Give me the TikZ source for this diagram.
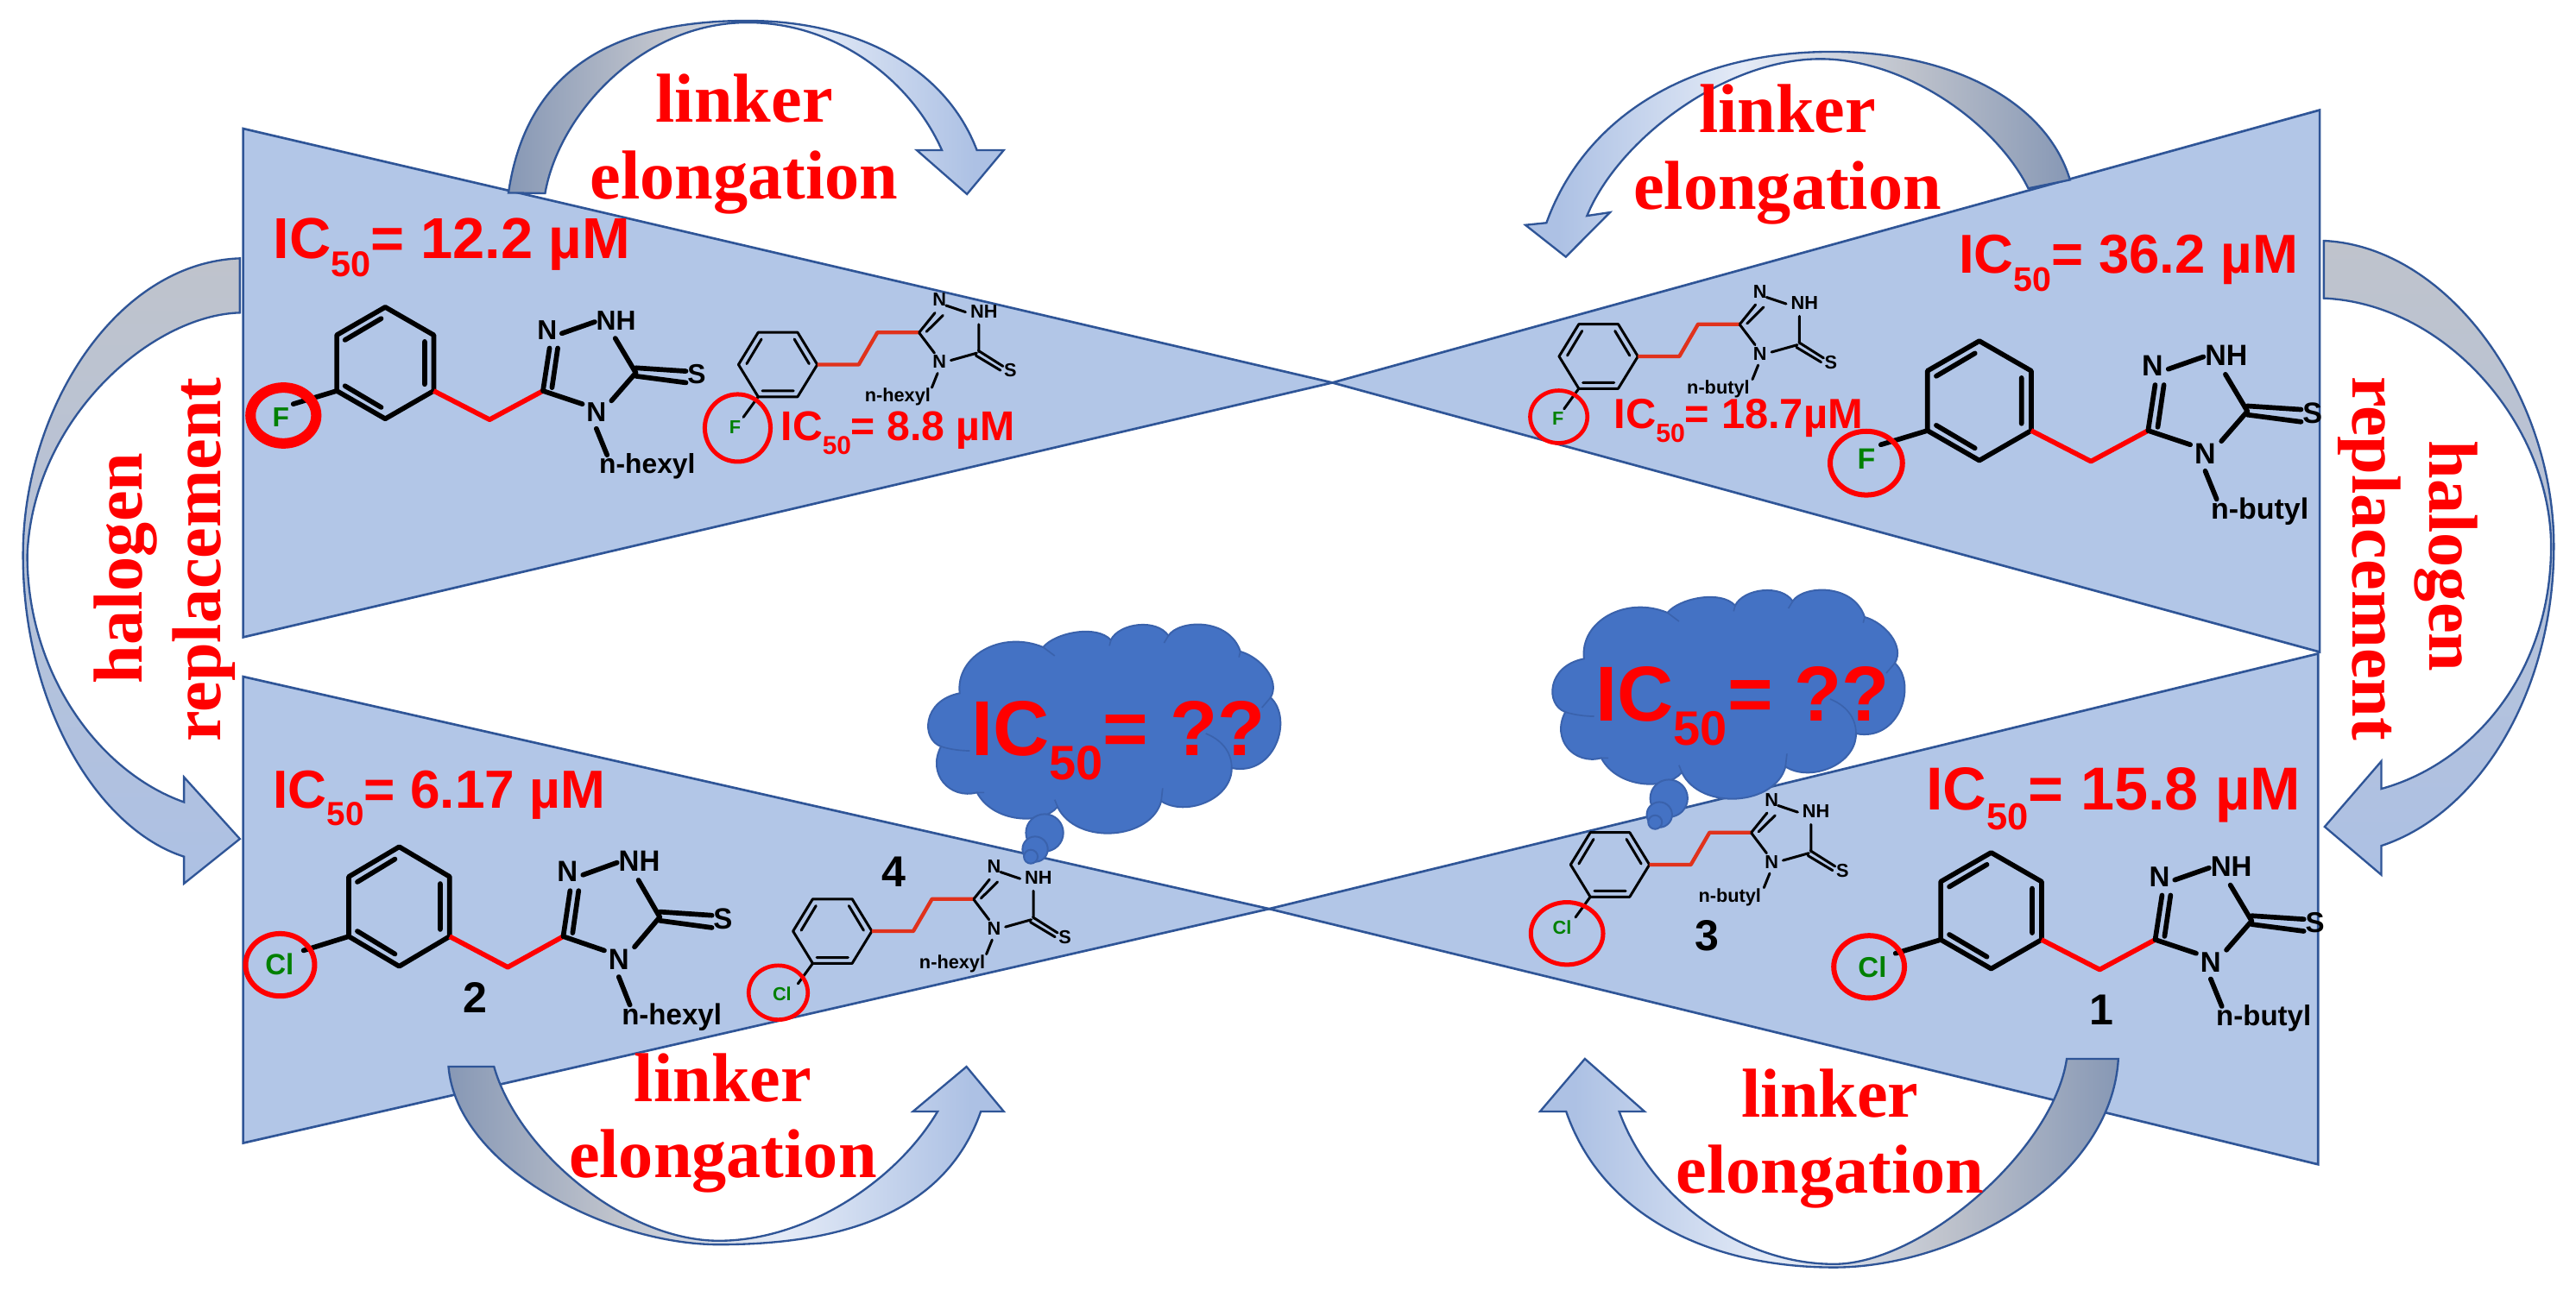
\documentclass[tikz,border=0pt]{standalone}
\usepackage{fontspec}
\setmainfont{Liberation Serif}
\setsansfont{Liberation Sans}
\usetikzlibrary{calc}
\definecolor{triF}{HTML}{B2C6E7}
\definecolor{triD}{HTML}{2F5597}
\definecolor{cloudF}{HTML}{4472C4}
\definecolor{cloudD}{HTML}{3A62AC}
\definecolor{halo}{HTML}{008000}
\definecolor{linkS}{HTML}{E0321C}
\definecolor{sA}{HTML}{8798B5}
\definecolor{sB}{HTML}{BFC3CC}
\definecolor{sC}{HTML}{E4EBF7}
\definecolor{sD}{HTML}{ADC1E4}
\pgfdeclarehorizontalshading{blockH}{100bp}{color(0bp)=(sA); color(25bp)=(sA); color(40bp)=(sB); color(55bp)=(sC); color(72bp)=(sD); color(100bp)=(sD)}
\tikzset{
  tri/.style={fill=triF,draw=triD,line width=.8pt,line join=miter},
  arcH/.style={shading=blockH,draw=triD,line width=.7pt,line join=miter},
  arcV/.style={top color=sB,bottom color=sD,draw=triD,line width=.7pt,line join=miter},
  lab/.style={font=\fontsize{24}{24}\selectfont\bfseries,text=red,inner sep=0pt},
  ic/.style={font=\sffamily\bfseries\fontsize{#1}{#1}\selectfont,text=red,inner sep=0pt,anchor=base west},
  bondL/.style={line width=1.7pt,black,line cap=round},
  bondS/.style={line width=.9pt,black,line cap=round},
  linkL/.style={line width=1.7pt,red,line join=round},
  linkSm/.style={line width=1.3pt,linkS,line join=round},
  atomL/.style={font=\sffamily\bfseries\fontsize{9.5}{9.5}\selectfont,inner sep=0pt},
  atomS/.style={font=\sffamily\bfseries\fontsize{6.5}{6.5}\selectfont,inner sep=0pt},
  num/.style={font=\sffamily\bfseries\fontsize{15}{15}\selectfont,inner sep=0pt},
  ring/.style={draw=red,line width=#1},
  puff/.style={fill=cloudF,draw=cloudD,line width=.6pt},
  crease/.style={draw=cloudD,line width=.5pt},
}
\newcommand{\icv}[1]{IC\raisebox{-.32em}{\scalebox{.62}{50}}= #1}
% large molecule: x y scale-keys prefix halogen halogen-x alkyl
\newcommand{\molL}[7]{%
\begin{scope}[shift={(#1,#2)},#3,name prefix=#4-,every node/.append style={transform shape}]
  \draw[bondL,line join=round] (29.5,17)--(29.5,-17)--(0,-34)--(-29.5,-17)--(-29.5,17)--(0,34)--cycle;
  \draw[bondL] (-24.5,-14)--(-2.5,-27) (24,-13)--(24,13) (-24.5,14)--(-2.5,27);
  \draw[linkL] (29.5,17)--(63.5,34.5)--(96,17);
  \draw[bondL] (96,17)--(100,-9) (101.5,15)--(105,-9) (96,17)--(120,25) (137.7,23)--(152.5,6)
     (152.5,6)--(140,-15) (107.5,-18)--(127.5,-25) (152.5,3)--(183,5) (152.5,8)--(183,12)
     (128.5,40)--(135,56) (-29.5,17)--(-56,25);
  \node[atomL] (n2) at (98.5,-20) {N};
  \node[atomL] (nh) at (140.5,-26) {NH};
  \node[atomL] (n4) at (128.5,30) {N};
  \node[atomL] (s) at (189.5,7) {S};
  \node[atomL] (alk) at (159.5,63) {#7};
  \node[atomL,text=halo] (x) at (#6,33) {#5};
\end{scope}}
% small molecule: x y prefix halogen halogen-x alkyl
\newcommand{\molS}[6]{%
\begin{scope}[shift={(#1,#2)},name prefix=#3-]
  \draw[bondS,line join=round] (-24,0)--(-12,-19.6)--(12,-19.6)--(24,0)--(12,19.6)--(-12,19.6)--cycle;
  \draw[bondS] (-19,-.5)--(-10,-15.5) (10,-15.5)--(19,-.5) (-9.5,16)--(9.5,16);
  \draw[linkSm] (24,0)--(49.2,0)--(60.6,-19.6)--(86,-19.6);
  \draw[bondS] (86,-19.6)--(95.6,-31.5) (90.4,-20)--(100.5,-30) (86,-19.3)--(95.3,-7)
     (102.3,-36)--(114.2,-32) (122.3,-24.5)--(122.3,-7.9) (121,-7)--(105.3,-2.6)
     (122,-8.5)--(137,1) (120.5,-5.5)--(135.5,3.5) (97.2,5.3)--(93.7,14) (-12,19.6)--(-21,32);
  \node[atomS] (n2) at (98.3,-39.4) {N};
  \node[atomS] (nh) at (125.4,-32.4) {NH};
  \node[atomS] (n4) at (98.3,-1.75) {N};
  \node[atomS] (s) at (141.5,3.5) {S};
  \node[atomS] (alk) at (72.9,19.8) {#6};
  \node[atomS,text=halo] (x) at (#5,38) {#4};
\end{scope}}
% cloud: origin x, origin y (P units) of the outline coordinates
\newcommand{\thoughtcloud}[3]{%
\begin{scope}[shift={(#1,#2)},scale=.1752,name prefix=#3-]
  \path[puff] (215,310)
   .. controls (200,180) and (360,90) .. (505,150)
   .. controls (545,100) and (690,70) .. (740,125)
   .. controls (770,65) and (900,50) .. (940,110)
   .. controls (975,55) and (1150,45) .. (1190,165)
   .. controls (1260,185) and (1330,265) .. (1295,325)
   .. controls (1375,400) and (1310,600) .. (1160,570)
   .. controls (1160,680) and (1000,740) .. (915,685)
   .. controls (880,820) and (620,840) .. (555,705)
   .. controls (500,770) and (330,760) .. (275,655)
   .. controls (180,680) and (100,590) .. (150,495)
   .. controls (80,470) and (85,335) .. (215,310) -- cycle;
  \draw[crease] (505,150)--(545,180) (740,125)--(735,145) (940,110)--(925,135) (1190,165)--(1185,185)
     (1295,325)--(1265,360) (915,685)--(920,640) (555,705)--(545,680) (275,655)--(300,655)
     (150,495) .. controls (180,505) and (220,510) .. (250,510)
     (1160,570) .. controls (1160,510) and (1120,470) .. (1070,450);
  \path[puff] (510,795) circle (65);
  \path[puff] (477,852) circle (44);
  \path[puff] (462,878) circle (24);
\end{scope}}
\begin{document}
\begin{tikzpicture}[x=.02cm,y=-.02cm]
\useasboundingbox (0,0) rectangle (1568,785.6);
% triangles
\path[tri] (148,78.3)--(811,233)--(148,388)--cycle;
\path[tri] (1412,67)--(811,233)--(1412,397)--cycle;
\path[tri] (148,412)--(772.5,553.4)--(148,696)--cycle;
\path[tri] (1411,398)--(772.5,553.4)--(1411,709)--cycle;
% curved block arrows
\path[arcH] (309.5,117.4) .. controls (320,45) and (370,12.6) .. (455,12.6)
  .. controls (520,12.6) and (575,40) .. (594.6,91.4) -- (611,91.4) -- (588.6,118.2) -- (558,91.4) -- (573.3,91.4)
  .. controls (555,50) and (510,13.7) .. (455,13.7) .. controls (390,13.7) and (340,70) .. (331.8,117.7) -- cycle;
\path[arcH,shading angle=180] (1260,109.5) .. controls (1245,60) and (1185,31.5) .. (1115,31.5)
  .. controls (1030,31.5) and (965,70) .. (941.3,135.7) -- (928.5,137) -- (953.1,156.4) -- (980,129.3) -- (966,131.4)
  .. controls (985,85) and (1050,35.9) .. (1108,35.9) .. controls (1160,35.9) and (1215,75) .. (1234.6,114.7) -- cycle;
\path[arcH] (273,649.5) .. controls (278,710) and (370,757.8) .. (437.5,757.8)
  .. controls (510,757.8) and (575,740) .. (597,676.8) -- (611,676.8) -- (588.3,649.5) -- (555.7,676.8) -- (570.7,676.8)
  .. controls (545,720) and (490,755.5) .. (437.5,755.5) .. controls (380,755.5) and (315,700) .. (300.7,649.5) -- cycle;
\path[arcH,shading angle=180] (1289.4,644.7) .. controls (1285,720) and (1190,771.7) .. (1116.4,771.7)
  .. controls (1040,771.7) and (975,740) .. (953.3,676.8) -- (937.4,676.8) -- (964.7,644.7) -- (1001,676.8) -- (985.6,676.8)
  .. controls (1005,730) and (1060,769.7) .. (1116.4,769.7) .. controls (1170,769.7) and (1250,700) .. (1258,644.7) -- cycle;
\path[arcV] (146,157.3) .. controls (70,160) and (14,250) .. (14,338)
  .. controls (14,430) and (60,505) .. (112,521.6) -- (112,538) -- (146,510.8) -- (112,473.2) -- (112,488.4)
  .. controls (60,470) and (16.6,410) .. (16.6,338) .. controls (20,255) and (92,192) .. (146,190.4) -- cycle;
\path[arcV] (1414.5,146.6) .. controls (1490,150) and (1554.5,240) .. (1554.5,332.6)
  .. controls (1554.5,420) and (1510,495) .. (1449.5,515) -- (1449.5,532.7) -- (1415,503.4) -- (1449.5,463.5) -- (1449.5,480.3)
  .. controls (1505,465) and (1552.8,410) .. (1552.8,332.6) .. controls (1552.8,260) and (1490,185) .. (1414.5,181.6) -- cycle;
% arrow labels
\node[lab,anchor=base] (l1a) at (453,74.5) {linker};
\node[lab,anchor=base] (l1b) at (453,121.3) {elongation};
\node[lab,anchor=base] (l2a) at (1088,80.6) {linker};
\node[lab,anchor=base] (l2b) at (1088,127.6) {elongation};
\node[lab,anchor=base] (l3a) at (440,670.5) {linker};
\node[lab,anchor=base] (l3b) at (440,717) {elongation};
\node[lab,anchor=base] (l4a) at (1114,680.4) {linker};
\node[lab,anchor=base] (l4b) at (1114,726.6) {elongation};
\node[lab,anchor=base,rotate=90] (h1a) at (86.7,346) {halogen};
\node[lab,anchor=base,rotate=90] (h1b) at (134,340.8) {replacement};
\node[lab,anchor=base,rotate=-90] (h2a) at (1479,338.7) {halogen};
\node[lab,anchor=base,rotate=-90] (h2b) at (1432,340) {replacement};
% molecules
\molL{234.5}{221}{scale=1}{mA}{F}{-63.5}{n-hexyl}
\molL{1204.8}{244}{scale=1.07}{mB}{F}{-64.3}{n-butyl}
\molL{243}{552}{xscale=1.04,yscale=1.07}{mC}{Cl}{-70}{n-hexyl}
\molL{1212}{554.5}{scale=1.04}{mD}{Cl}{-69.5}{n-butyl}
\molS{473.5}{222}{sA}{F}{-26}{n-hexyl}
\molS{973}{217}{sB}{F}{-24.7}{n-butyl}
\molS{506.7}{567}{sC}{Cl}{-30.7}{n-hexyl}
\molS{980}{526.5}{sD}{Cl}{-29.2}{n-butyl}
% halogen rings
\draw[ring=3.6pt] (172.5,253) ellipse (20 and 17);
\draw[ring=1.8pt] (1136,282) ellipse (22 and 19.4);
\draw[ring=1.8pt] (170.5,587.5) ellipse (21 and 19);
\draw[ring=1.8pt] (1137.7,588.7) ellipse (21.5 and 19);
\draw[ring=1.5pt] (449,260.6) ellipse (20 and 20.5);
\draw[ring=1.4pt] (948.8,253.8) ellipse (17.4 and 16);
\draw[ring=1.4pt] (473.7,604.4) ellipse (18 and 16.5);
\draw[ring=1.5pt] (953.8,568.4) ellipse (22 and 19);
% IC50 values
\node[ic=20] (v1) at (166,157.4) {\icv{12.2 µM}};
\node[ic=14.4] (v2) at (475,268.3) {\icv{8.8 µM}};
\node[ic=19] (v3) at (1192,166.5) {\icv{36.2 µM}};
\node[ic=14.6] (v4) at (982,261) {\icv{18.7µM}};
\node[ic=18.6] (v5) at (166,492) {\icv{6.17 µM}};
\node[ic=21] (v6) at (1172,493.3) {\icv{15.8 µM}};
% compound numbers
\node[num] (c1) at (1279,615) {1};
\node[num] (c2) at (289,607.6) {2};
\node[num] (c3) at (1039,570) {3};
\node[num] (c4) at (544,530.6) {4};
% thought clouds
\thoughtcloud{546.5}{367.8}{cA}
\thoughtcloud{926.5}{346.8}{cB}
\node[ic=27] (q1) at (591,459.8) {\icv{??}};
\node[ic=27] (q2) at (971,438.8) {\icv{??}};
\end{tikzpicture}
\end{document}
